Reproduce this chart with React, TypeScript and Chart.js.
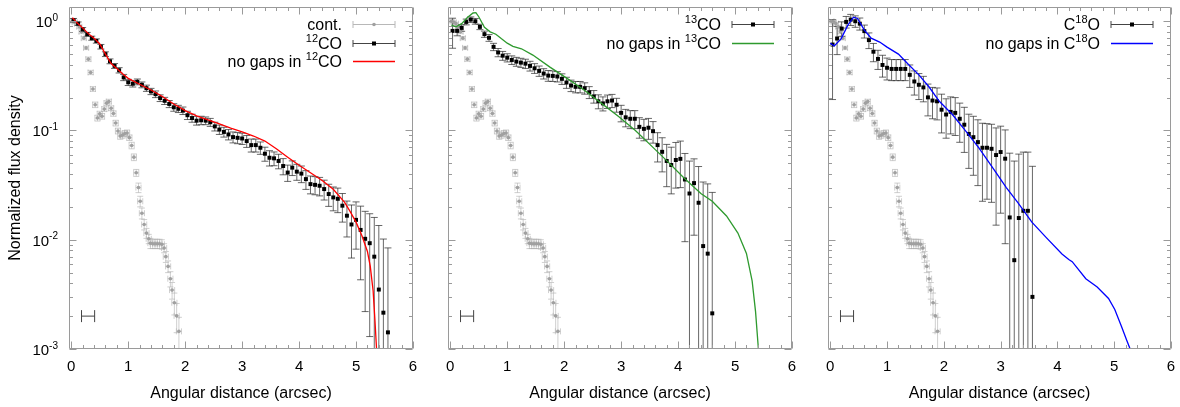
import React, { useEffect, useRef } from 'react';
import { Chart, registerables } from 'chart.js';

Chart.register(...registerables);

const FONT = '"Liberation Sans", Arial, Helvetica, sans-serif';

// ---------- axes ----------
const xMin = -0.04;
const xMax = 6;
const yMin = 0.001;
const yMax = 1.35;
const xTickValues = [0, 1, 2, 3, 4, 5, 6];
const yTickExponents = [0, -1, -2, -3];
const xAxisTitle = 'Angular distance (arcsec)';
const yAxisTitle = 'Normalized flux density';

// ---------- continuum (grey) ----------
const contX = [0.02, 0.06, 0.10, 0.14, 0.18, 0.22, 0.26, 0.30, 0.34, 0.38,
  0.42, 0.46, 0.50, 0.54, 0.58, 0.62, 0.66, 0.70, 0.74, 0.78,
  0.82, 0.86, 0.90, 0.94, 0.98, 1.02, 1.06, 1.10, 1.14, 1.18,
  1.21, 1.24, 1.28, 1.32, 1.36, 1.39, 1.43, 1.47, 1.51, 1.55,
  1.59, 1.63, 1.66, 1.70, 1.74, 1.77, 1.81, 1.85, 1.89];
const contY = [1.0, 0.98, 0.95, 0.89, 0.80, 0.70, 0.57, 0.45, 0.34, 0.24,
  0.172, 0.13, 0.142, 0.135, 0.157, 0.178, 0.184, 0.16, 0.143, 0.117,
  0.099, 0.089, 0.091, 0.094, 0.095, 0.086, 0.073, 0.057, 0.041, 0.030,
  0.0225, 0.0175, 0.0138, 0.0115, 0.0102, 0.0093, 0.0092, 0.0092, 0.0092, 0.0092,
  0.0091, 0.0084, 0.0070, 0.0057, 0.0044, 0.00346, 0.00265, 0.00201, 0.00145];
const contYErr = [0.03, 0.03, 0.03, 0.03, 0.03, 0.025, 0.02, 0.02, 0.015, 0.012,
  0.01, 0.008, 0.008, 0.008, 0.008, 0.009, 0.009, 0.008, 0.008, 0.007,
  0.006, 0.006, 0.006, 0.006, 0.006, 0.005, 0.005, 0.004, 0.003, 0.003,
  0.0025, 0.002, 0.0015, 0.0012, 0.001, 0.001, 0.0009, 0.0009, 0.0009, 0.0009,
  0.0009, 0.0008, 0.0008, 0.0007, 0.0007, 0.0006, 0.0006, 0.0006, 0.0005];
const contXErr = 0.045;

// ---------- 12CO ----------
const co12X = [0.04, 0.12, 0.20, 0.28, 0.36, 0.44, 0.52, 0.60, 0.68, 0.76,
  0.84, 0.92, 1.00, 1.08, 1.16, 1.24, 1.32, 1.40, 1.48, 1.56,
  1.64, 1.72, 1.80, 1.88, 1.96, 2.04, 2.12, 2.20, 2.28, 2.36,
  2.44, 2.52, 2.60, 2.68, 2.76, 2.84, 2.92, 3.00, 3.08, 3.16,
  3.24, 3.32, 3.40, 3.48, 3.56, 3.64, 3.72, 3.80, 3.88, 3.96,
  4.04, 4.12, 4.20, 4.28, 4.36, 4.44, 4.52, 4.60, 4.68, 4.76,
  4.84, 4.92, 5.00, 5.08, 5.16, 5.24, 5.32, 5.40, 5.48, 5.56];
const co12Y = [1.02, 0.95, 0.84, 0.76, 0.70, 0.66, 0.585, 0.50, 0.43, 0.39,
  0.356, 0.306, 0.276, 0.268, 0.279, 0.262, 0.244, 0.228, 0.215, 0.198,
  0.187, 0.175, 0.163, 0.158, 0.152, 0.138, 0.130, 0.123, 0.124, 0.123,
  0.119, 0.109, 0.102, 0.097, 0.092, 0.087, 0.0857, 0.0845, 0.080, 0.0735,
  0.0735, 0.0695, 0.0613, 0.0563, 0.0556, 0.0526, 0.0473, 0.0412, 0.0457, 0.042,
  0.0403, 0.0359, 0.0323, 0.0318, 0.0312, 0.0291, 0.0262, 0.0244, 0.0237, 0.0205,
  0.0166, 0.0138, 0.0152, 0.0123, 0.0102, 0.0093, 0.0070, 0.0035, 0.00215, 0.00142];
const co12Err = [0.04, 0.035, 0.035, 0.03, 0.03, 0.03, 0.028, 0.025, 0.022, 0.02,
  0.02, 0.02, 0.018, 0.018, 0.017, 0.016, 0.016, 0.015, 0.015, 0.014,
  0.014, 0.013, 0.013, 0.012, 0.012, 0.012, 0.011, 0.011, 0.011, 0.010,
  0.010, 0.010, 0.010, 0.010, 0.010, 0.010, 0.010, 0.010, 0.010, 0.010,
  0.010, 0.009, 0.009, 0.009, 0.008, 0.008, 0.008, 0.007, 0.007, 0.007,
  0.007, 0.007, 0.006, 0.006, 0.006, 0.006, 0.006, 0.006, 0.006, 0.006,
  0.006, 0.007, 0.007, 0.008, 0.008, 0.008, 0.009, 0.010, 0.008, 0.007];
const co12ModelX = [0.02, 0.1, 0.2, 0.3, 0.4, 0.5, 0.6, 0.7, 0.8, 0.9,
  1.0, 1.2, 1.4, 1.6, 1.8, 2.0, 2.2, 2.4, 2.6, 2.8,
  3.0, 3.2, 3.4, 3.6, 3.8, 4.0, 4.2, 4.4, 4.6, 4.8,
  4.9, 5.0, 5.1, 5.2, 5.25, 5.3, 5.33, 5.36, 5.39];
const co12ModelY = [1.08, 0.97, 0.87, 0.77, 0.70, 0.62, 0.50, 0.41, 0.37, 0.33,
  0.30, 0.265, 0.235, 0.205, 0.175, 0.152, 0.136, 0.125, 0.115, 0.105,
  0.097, 0.089, 0.080, 0.068, 0.057, 0.048, 0.041, 0.035, 0.029, 0.022,
  0.018, 0.0145, 0.011, 0.0078, 0.0057, 0.0034, 0.0019, 0.001, 0.0005];

// ---------- 13CO ----------
const co13X = [0.04, 0.12, 0.20, 0.28, 0.36, 0.44, 0.52, 0.60, 0.68, 0.76,
  0.84, 0.92, 1.00, 1.08, 1.16, 1.24, 1.32, 1.40, 1.48, 1.56,
  1.64, 1.72, 1.80, 1.88, 1.96, 2.04, 2.12, 2.20, 2.28, 2.36,
  2.44, 2.52, 2.60, 2.68, 2.76, 2.84, 2.92, 3.00, 3.08, 3.16,
  3.24, 3.32, 3.40, 3.48, 3.56, 3.64, 3.72, 3.80, 3.88, 3.96,
  4.04, 4.12, 4.20, 4.28, 4.36, 4.44, 4.52, 4.60];
const co13Y = [0.816, 0.816, 0.869, 0.986, 1.035, 1.0, 0.888, 0.762, 0.705, 0.583,
  0.518, 0.484, 0.464, 0.442, 0.427, 0.418, 0.409, 0.39, 0.371, 0.351,
  0.332, 0.318, 0.316, 0.312, 0.297, 0.275, 0.258, 0.251, 0.251, 0.244,
  0.224, 0.205, 0.185, 0.177, 0.185, 0.188, 0.172, 0.145, 0.132, 0.128,
  0.128, 0.108, 0.1035, 0.106, 0.0986, 0.0735, 0.0638, 0.0526, 0.0483, 0.0537,
  0.055, 0.0356, 0.0265, 0.033, 0.0218, 0.00875, 0.00746, 0.00212];
const co13Err = [0.25, 0.08, 0.06, 0.06, 0.06, 0.06, 0.05, 0.05, 0.05, 0.045,
  0.045, 0.045, 0.04, 0.04, 0.04, 0.04, 0.04, 0.04, 0.038, 0.038,
  0.036, 0.036, 0.035, 0.034, 0.033, 0.032, 0.031, 0.03, 0.03, 0.029,
  0.028, 0.027, 0.027, 0.026, 0.026, 0.026, 0.025, 0.025, 0.024, 0.024,
  0.024, 0.023, 0.023, 0.023, 0.022, 0.022, 0.022, 0.022, 0.022, 0.024,
  0.025, 0.026, 0.026, 0.022, 0.025, 0.025, 0.025, 0.025];
const co13ModelX = [0.02, 0.1, 0.2, 0.3, 0.4, 0.45, 0.5, 0.6, 0.7, 0.8,
  0.9, 1.0, 1.1, 1.25, 1.45, 1.75, 2.05, 2.35, 2.65, 2.95,
  3.25, 3.5, 3.8, 4.1, 4.4, 4.6, 4.85, 5.05, 5.2, 5.3,
  5.36, 5.41, 5.44];
const co13ModelY = [0.92, 0.89, 0.95, 1.08, 1.19, 1.2, 1.1, 0.88, 0.80, 0.76,
  0.69, 0.63, 0.59, 0.56, 0.49, 0.38, 0.30, 0.235, 0.178, 0.135,
  0.10, 0.075, 0.053, 0.037, 0.0265, 0.0225, 0.0165, 0.0115, 0.0075, 0.0042,
  0.0022, 0.001, 0.0005];

// ---------- C18O ----------
const c18X = [0.04, 0.12, 0.20, 0.28, 0.36, 0.44, 0.52, 0.60, 0.68, 0.76,
  0.84, 0.92, 1.00, 1.08, 1.16, 1.24, 1.32, 1.40, 1.48, 1.56,
  1.64, 1.72, 1.80, 1.88, 1.96, 2.04, 2.12, 2.20, 2.28, 2.36,
  2.44, 2.52, 2.60, 2.68, 2.76, 2.84, 2.92, 3.00, 3.08, 3.16,
  3.24, 3.32, 3.40, 3.48, 3.56];
const c18Y = [0.612, 0.695, 0.857, 0.986, 1.035, 1.0, 0.95, 0.812, 0.672, 0.526,
  0.452, 0.398, 0.375, 0.366, 0.366, 0.366, 0.366, 0.323, 0.281, 0.262,
  0.248, 0.201, 0.188, 0.185, 0.155, 0.14, 0.148, 0.145, 0.128, 0.113,
  0.093, 0.0869, 0.0783, 0.0695, 0.0695, 0.068, 0.0596, 0.0635, 0.0552, 0.016,
  0.0065, 0.0158, 0.0184, 0.0184, 0.003];
const c18Err = [0.42, 0.2, 0.13, 0.12, 0.12, 0.12, 0.12, 0.11, 0.11, 0.1,
  0.09, 0.09, 0.085, 0.08, 0.08, 0.08, 0.08, 0.075, 0.07, 0.07,
  0.065, 0.065, 0.06, 0.06, 0.06, 0.055, 0.055, 0.055, 0.05, 0.05,
  0.048, 0.048, 0.047, 0.047, 0.046, 0.046, 0.046, 0.046, 0.046, 0.046,
  0.046, 0.045, 0.045, 0.045, 0.044];
const c18ModelX = [0.0, 0.07, 0.19, 0.31, 0.41, 0.48, 0.6, 0.72, 0.87, 1.0,
  1.2, 1.36, 1.56, 1.74, 1.92, 2.15, 2.39, 2.62, 2.88, 3.1,
  3.3, 3.55, 3.8, 4.08, 4.2, 4.26, 4.5, 4.7, 4.9, 5.01,
  5.13, 5.22, 5.28, 5.31];
const c18ModelY = [0.63, 0.595, 0.69, 0.92, 1.09, 1.06, 0.83, 0.70, 0.645, 0.58,
  0.50, 0.41, 0.323, 0.25, 0.185, 0.14, 0.098, 0.069, 0.044, 0.03,
  0.022, 0.0145, 0.0105, 0.0074, 0.0066, 0.0063, 0.0044, 0.0037, 0.0029, 0.0023,
  0.0016, 0.0012, 0.001, 0.0008];

// ---------- beam marker ----------
const beamX = [0.18, 0.41];
const beamY = [0.002, 0.002];

// ---------- legend labels ----------
const legendCont = [{ t: 'cont.' }];
const legend12 = [{ t: '12', sup: true }, { t: 'CO' }];
const legend12Model = [{ t: 'no gaps in ' }, { t: '12', sup: true }, { t: 'CO' }];
const legend13 = [{ t: '13', sup: true }, { t: 'CO' }];
const legend13Model = [{ t: 'no gaps in ' }, { t: '13', sup: true }, { t: 'CO' }];
const legend18 = [{ t: 'C' }, { t: '18', sup: true }, { t: 'O' }];
const legend18Model = [{ t: 'no gaps in C' }, { t: '18', sup: true }, { t: 'O' }];

const pts = (xs: number[], ys: number[]) => xs.map((x, i) => ({ x, y: ys[i] }));

// ---------- plugins ----------
const errorBarPlugin = {
  id: 'errorBars',
  beforeDatasetsDraw(chart: any) {
    const { ctx, chartArea: a, scales } = chart;
    const xs = scales.x, ys = scales.y;
    ctx.save();
    ctx.beginPath();
    ctx.rect(a.left, a.top, a.right - a.left, a.bottom - a.top);
    ctx.clip();
    const dss = chart.data.datasets;
    for (let di = dss.length - 1; di >= 0; di--) {
      const ds = dss[di];
      const eb = ds.errorBars;
      if (!eb) continue;
      ctx.strokeStyle = eb.color;
      ctx.lineWidth = 1;
      const c = eb.cap;
      ds.data.forEach((p: any, i: number) => {
        const px = xs.getPixelForValue(p.x);
        const dy = eb.yErr[i];
        const hi = ys.getPixelForValue(p.y + dy);
        const low = p.y - dy;
        const lo = low > 0 ? ys.getPixelForValue(low) : a.bottom + 20;
        ctx.beginPath();
        ctx.moveTo(px, hi); ctx.lineTo(px, lo);
        ctx.moveTo(px - c, hi); ctx.lineTo(px + c, hi);
        if (low > 0) { ctx.moveTo(px - c, lo); ctx.lineTo(px + c, lo); }
        if (eb.xErr) {
          const py = ys.getPixelForValue(p.y);
          const xl = xs.getPixelForValue(p.x - eb.xErr);
          const xr = xs.getPixelForValue(p.x + eb.xErr);
          ctx.moveTo(xl, py); ctx.lineTo(xr, py);
          ctx.moveTo(xl, py - c); ctx.lineTo(xl, py + c);
          ctx.moveTo(xr, py - c); ctx.lineTo(xr, py + c);
        }
        ctx.stroke();
      });
    }
    ctx.restore();
  },
};

const framePlugin = {
  id: 'frame',
  afterDatasetsDraw(chart: any) {
    const { ctx, chartArea: a, scales } = chart;
    const xs = scales.x, ys = scales.y;
    const L = Math.round(a.left) + 0.5, R = Math.round(a.right) - 0.5;
    const T = Math.round(a.top) + 0.5, B = Math.round(a.bottom) - 0.5;
    ctx.save();
    ctx.strokeStyle = '#9a9a9a';
    ctx.lineWidth = 1;
    ctx.beginPath();
    ctx.rect(L, T, R - L, B - T);
    for (let k = 0; k <= 30; k++) {
      const v = k * 0.2;
      const len = k % 5 === 0 ? 7 : 3.5;
      const px = Math.round(xs.getPixelForValue(v)) + 0.5;
      ctx.moveTo(px, B); ctx.lineTo(px, B - len);
      ctx.moveTo(px, T); ctx.lineTo(px, T + len);
    }
    for (const e of [-3, -2, -1, 0]) {
      for (let m = 1; m <= 9; m++) {
        const v = m * Math.pow(10, e);
        if (v > yMax || v < yMin * 0.999) continue;
        const len = m === 1 ? 7 : 3.5;
        const py = Math.round(ys.getPixelForValue(v)) + 0.5;
        ctx.moveTo(L, py); ctx.lineTo(L + len, py);
        ctx.moveTo(R, py); ctx.lineTo(R - len, py);
      }
    }
    ctx.stroke();
    ctx.restore();
  },
};

const makeYLabelPlugin = (show: boolean) => ({
  id: 'yLabels',
  afterDraw(chart: any) {
    if (!show) return;
    const { ctx, chartArea: a, scales } = chart;
    const ys = scales.y;
    ctx.save();
    ctx.fillStyle = '#000';
    ctx.textBaseline = 'alphabetic';
    for (const e of yTickExponents) {
      const py = ys.getPixelForValue(Math.pow(10, e));
      const sup = String(e);
      ctx.font = `10px ${FONT}`;
      const sw = ctx.measureText(sup).width;
      const right = a.left - 11;
      ctx.textAlign = 'left';
      ctx.fillText(sup, right - sw, py - 0.5);
      ctx.font = `15px ${FONT}`;
      ctx.textAlign = 'right';
      ctx.fillText('10', right - sw, py + 6);
    }
    ctx.restore();
  },
});

type Part = { t: string; sup?: boolean };
type LegendEntry = { parts: Part[]; kind: 'err' | 'line'; color: string; pt?: string; shape?: string };

const legendRows = [17, 35.5, 54];

const makeLegendPlugin = (entries: LegendEntry[]) => ({
  id: 'panelLegend',
  afterDatasetsDraw(chart: any) {
    const { ctx, chartArea: a } = chart;
    ctx.save();
    entries.forEach((e, k) => {
      const y = Math.round(a.top + legendRows[k]) + 0.5;
      const base = `16px ${FONT}`;
      const supF = `11px ${FONT}`;
      let w = 0;
      e.parts.forEach((p) => { ctx.font = p.sup ? supF : base; w += ctx.measureText(p.t).width; });
      let x = a.right - 71 - w;
      ctx.fillStyle = '#000';
      ctx.textAlign = 'left';
      ctx.textBaseline = 'alphabetic';
      e.parts.forEach((p) => {
        ctx.font = p.sup ? supF : base;
        ctx.fillText(p.t, x, p.sup ? y + 5.5 - 7 : y + 5.5);
        x += ctx.measureText(p.t).width;
      });
      const x0 = a.right - 60, x1 = a.right - 18, xm = (x0 + x1) / 2;
      ctx.beginPath();
      ctx.strokeStyle = e.color;
      if (e.kind === 'line') {
        ctx.lineWidth = 1.3;
        ctx.moveTo(x0, y); ctx.lineTo(x1, y);
        ctx.stroke();
      } else {
        ctx.lineWidth = 1;
        ctx.moveTo(x0, y); ctx.lineTo(x1, y);
        ctx.moveTo(x0, y - 3.5); ctx.lineTo(x0, y + 3.5);
        ctx.moveTo(x1, y - 3.5); ctx.lineTo(x1, y + 3.5);
        ctx.stroke();
        ctx.fillStyle = e.pt || '#000';
        if (e.shape === 'rect') ctx.fillRect(xm - 2, y - 2, 4, 4);
        else { ctx.beginPath(); ctx.arc(xm, y, 1.8, 0, Math.PI * 2); ctx.fill(); }
      }
    });
    ctx.restore();
  },
});

// ---------- datasets ----------
const contDataset = () => ({
  label: 'cont.',
  data: pts(contX, contY),
  showLine: false,
  pointStyle: 'circle',
  pointRadius: 1.8,
  pointBackgroundColor: '#a0a0a0',
  pointBorderWidth: 0,
  errorBars: { yErr: contYErr, xErr: contXErr, color: 'rgba(175,175,175,0.6)', cap: 3 },
});

const beamDataset = () => ({
  label: 'beam',
  data: pts(beamX, beamY),
  showLine: true,
  borderColor: '#444',
  borderWidth: 1,
  pointStyle: 'line',
  pointRotation: 90,
  pointRadius: 6,
  pointBorderColor: '#444',
  pointBorderWidth: 1,
});

const obsDataset = (label: string, xs: number[], ys: number[], err: number[]) => ({
  label,
  data: pts(xs, ys),
  showLine: false,
  pointStyle: 'rect',
  pointRadius: 2.8,
  pointBackgroundColor: '#000',
  pointBorderWidth: 0,
  errorBars: { yErr: err, color: 'rgba(40,40,40,0.7)', cap: 3.5 },
});

const modelDataset = (label: string, xs: number[], ys: number[], color: string) => ({
  label,
  data: pts(xs, ys),
  showLine: true,
  borderColor: color,
  borderWidth: 1.3,
  pointRadius: 0,
  tension: 0,
});

type PanelDef = {
  left: number; width: number; yWidth: number; padRight: number; showY: boolean;
  datasets: () => any[]; legend: LegendEntry[];
};

const panels: PanelDef[] = [
  {
    left: 0, width: 420, yWidth: 69, padRight: 7, showY: true,
    datasets: () => [
      modelDataset('no gaps in 12CO', co12ModelX, co12ModelY, '#ff0000'),
      obsDataset('12CO', co12X, co12Y, co12Err),
      contDataset(),
      beamDataset(),
    ],
    legend: [
      { parts: legendCont, kind: 'err', color: '#b8b8b8', pt: '#a0a0a0', shape: 'circle' },
      { parts: legend12, kind: 'err', color: '#444', pt: '#000', shape: 'rect' },
      { parts: legend12Model, kind: 'line', color: '#ff0000' },
    ],
  },
  {
    left: 420, width: 380, yWidth: 28, padRight: 8, showY: false,
    datasets: () => [
      modelDataset('no gaps in 13CO', co13ModelX, co13ModelY, '#2e9a2e'),
      obsDataset('13CO', co13X, co13Y, co13Err),
      contDataset(),
      beamDataset(),
    ],
    legend: [
      { parts: legend13, kind: 'err', color: '#444', pt: '#000', shape: 'rect' },
      { parts: legend13Model, kind: 'line', color: '#2e9a2e' },
    ],
  },
  {
    left: 800, width: 380, yWidth: 28, padRight: 9, showY: false,
    datasets: () => [
      modelDataset('no gaps in C18O', c18ModelX, c18ModelY, '#0000ff'),
      obsDataset('C18O', c18X, c18Y, c18Err),
      contDataset(),
      beamDataset(),
    ],
    legend: [
      { parts: legend18, kind: 'err', color: '#444', pt: '#000', shape: 'rect' },
      { parts: legend18Model, kind: 'line', color: '#0000ff' },
    ],
  },
];

const zeroPad = (s: any) => {
  s.paddingTop = 0; s.paddingBottom = 0; s.paddingLeft = 0; s.paddingRight = 0;
};

function makeConfig(def: PanelDef): any {
  return {
    type: 'scatter',
    data: { datasets: def.datasets() },
    options: {
      responsive: false,
      animation: false,
      devicePixelRatio: 1,
      events: [],
      layout: { padding: { top: 5, right: def.padRight, left: 0, bottom: 0 } },
      plugins: { legend: { display: false }, tooltip: { enabled: false } },
      scales: {
        x: {
          type: 'linear',
          position: 'bottom',
          min: xMin,
          max: xMax,
          afterBuildTicks: (s: any) => { s.ticks = xTickValues.map((v) => ({ value: v })); },
          afterFit: (s: any) => { s.height = 58; zeroPad(s); },
          grid: { display: false, drawTicks: false },
          border: { display: false },
          ticks: {
            font: { family: FONT, size: 15 },
            color: '#000',
            padding: 9,
            maxRotation: 0,
            autoSkip: false,
            callback: (v: any) => String(v),
          },
          title: {
            display: true,
            text: xAxisTitle,
            color: '#000',
            font: { family: FONT, size: 16 },
            padding: { top: 0, bottom: 4 },
          },
        },
        y: {
          type: 'logarithmic',
          position: 'left',
          min: yMin,
          max: yMax,
          afterFit: (s: any) => { s.width = def.yWidth; zeroPad(s); },
          grid: { display: false, drawTicks: false },
          border: { display: false },
          ticks: { display: false },
          title: {
            display: def.showY,
            text: yAxisTitle,
            color: '#000',
            font: { family: FONT, size: 16 },
            padding: { top: 6, bottom: 0 },
          },
        },
      },
    },
    plugins: [errorBarPlugin, framePlugin, makeYLabelPlugin(def.showY), makeLegendPlugin(def.legend)],
  };
}

function Panel({ def }: { def: PanelDef }) {
  const ref = useRef<HTMLCanvasElement>(null);
  useEffect(() => {
    const chart = new Chart(ref.current as HTMLCanvasElement, makeConfig(def));
    return () => chart.destroy();
  }, [def]);
  return (
    <canvas
      ref={ref}
      width={def.width}
      height={407}
      style={{ position: 'absolute', left: def.left, top: 0, width: def.width, height: 407, display: 'block' }}
    />
  );
}

export default function App() {
  useEffect(() => {
    document.body.style.margin = '0';
  }, []);
  return (
    <div style={{ position: 'relative', width: 1180, height: 407, background: '#fff', overflow: 'hidden' }}>
      {panels.map((p, i) => (
        <Panel key={i} def={p} />
      ))}
    </div>
  );
}
